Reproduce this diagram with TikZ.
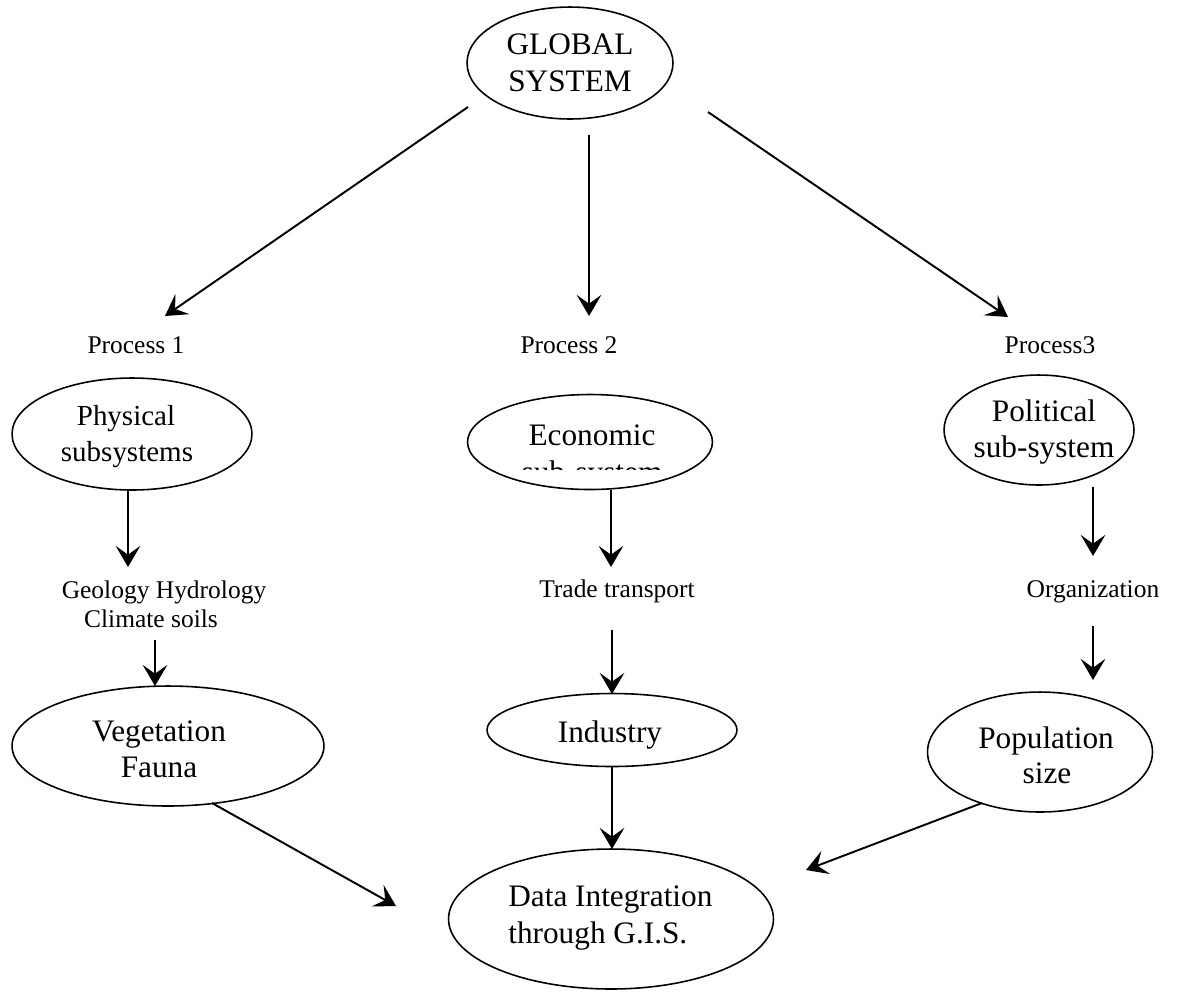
\documentclass[tikz,border=0pt]{standalone}
\usepackage{fontspec}
\setmainfont{Liberation Serif}
\usetikzlibrary{shapes.geometric,arrows.meta}
\begin{document}
\begin{tikzpicture}[x=0.02cm,y=-0.02cm,
  oval/.style={draw, line width=0.9pt, ellipse, inner sep=0pt},
  big/.style={font=\fontsize{17.8}{21}\selectfont, inner sep=0pt, anchor=base},
  lbl/.style={font=\fontsize{14.5}{17}\selectfont, inner sep=0pt, anchor=base},
  arr/.style={line width=1.1pt, -{Stealth[length=12pt,width=14pt,inset=5pt]}}]
\fill[white] (0,0) rectangle (1193,992);
\useasboundingbox (0,0) rectangle (1193,992);
% ellipses
\node[oval, minimum width=4.12cm, minimum height=2.24cm] (glob) at (570,63) {};
\node[oval, minimum width=4.8cm, minimum height=2.24cm] (phys) at (132,434) {};
\node[oval, minimum width=4.9cm, minimum height=1.9cm] (econ) at (590,442) {};
\node[oval, minimum width=3.8cm, minimum height=2.2cm] (poli) at (1039,430) {};
\node[oval, minimum width=6.24cm, minimum height=2.4cm] (vege) at (168,746) {};
\node[oval, minimum width=5.0cm, minimum height=1.46cm] (indu) at (612,730) {};
\node[oval, minimum width=4.5cm, minimum height=2.4cm] (popu) at (1040,752) {};
\node[oval, minimum width=6.5cm, minimum height=2.8cm] (data) at (611,919) {};
% texts in ellipses
\node[big] (globt1) at (570,54) {GLOBAL};
\node[big] (globt2) at (570,91) {SYSTEM};
\node[big, font=\fontsize{16.5}{20}\selectfont] (physt1) at (126,425) {Physical};
\node[big, font=\fontsize{16.5}{20}\selectfont] (physt2) at (127,461) {subsystems};
\node[big] (econt) at (592,445) {Economic};
\begin{scope}
  \clip (460,395) rectangle (720,469);
  \node[big] (econt2) at (592,482) {sub-system};
\end{scope}
\node[big] (polit1) at (1044,421) {Political};
\node[big] (polit2) at (1044,457) {sub-system};
\node[big] (veget1) at (159,741) {Vegetation};
\node[big] (veget2) at (159,777) {Fauna};
\node[big] (indut) at (610,742) {Industry};
\node[big] (poput1) at (1046,748) {Population};
\node[big] (poput2) at (1047,783) {size};
\node[big, anchor=base west] (datat1) at (508,906) {Data Integration};
\node[big, anchor=base west] (datat2) at (508,943) {through G.I.S.};
% labels
\node[lbl] (p1) at (136,353) {Process 1};
\node[lbl] (p2) at (569,353) {Process 2};
\node[lbl] (p3) at (1050,353) {Process3};
\node[lbl] (geo1) at (164,598) {Geology Hydrology};
\node[lbl] (geo2) at (151,627) {Climate soils};
\node[lbl] (trade) at (617,597) {Trade transport};
\node[lbl] (org) at (1093,597) {Organization};
% connector ends
\coordinate (a1s) at (468,107); \coordinate (a1e) at (165,316);
\coordinate (a2s) at (589,135); \coordinate (a2e) at (589,316);
\coordinate (a3s) at (708,112); \coordinate (a3e) at (1008,317);
\coordinate (b1s) at (128,490); \coordinate (b1e) at (128,567);
\coordinate (b2s) at (155,640); \coordinate (b2e) at (155,686);
\coordinate (c1s) at (611,490); \coordinate (c1e) at (611,567);
\coordinate (c2s) at (612,630); \coordinate (c2e) at (612,694);
\coordinate (d1s) at (1093,487); \coordinate (d1e) at (1093,556);
\coordinate (d2s) at (1093,626); \coordinate (d2e) at (1093,680);
\coordinate (e1s) at (612,767); \coordinate (e1e) at (612,849);
\coordinate (e2s) at (212,803); \coordinate (e2e) at (396,906);
\coordinate (e3s) at (982,803); \coordinate (e3e) at (806,870);
\draw[arr] (a1s) -- (a1e);
\draw[arr] (a2s) -- (a2e);
\draw[arr] (a3s) -- (a3e);
\draw[arr] (b1s) -- (b1e);
\draw[arr] (b2s) -- (b2e);
\draw[arr] (c1s) -- (c1e);
\draw[arr] (c2s) -- (c2e);
\draw[arr] (d1s) -- (d1e);
\draw[arr] (d2s) -- (d2e);
\draw[arr] (e1s) -- (e1e);
\draw[arr] (e2s) -- (e2e);
\draw[arr] (e3s) -- (e3e);
\end{tikzpicture}
\end{document}
